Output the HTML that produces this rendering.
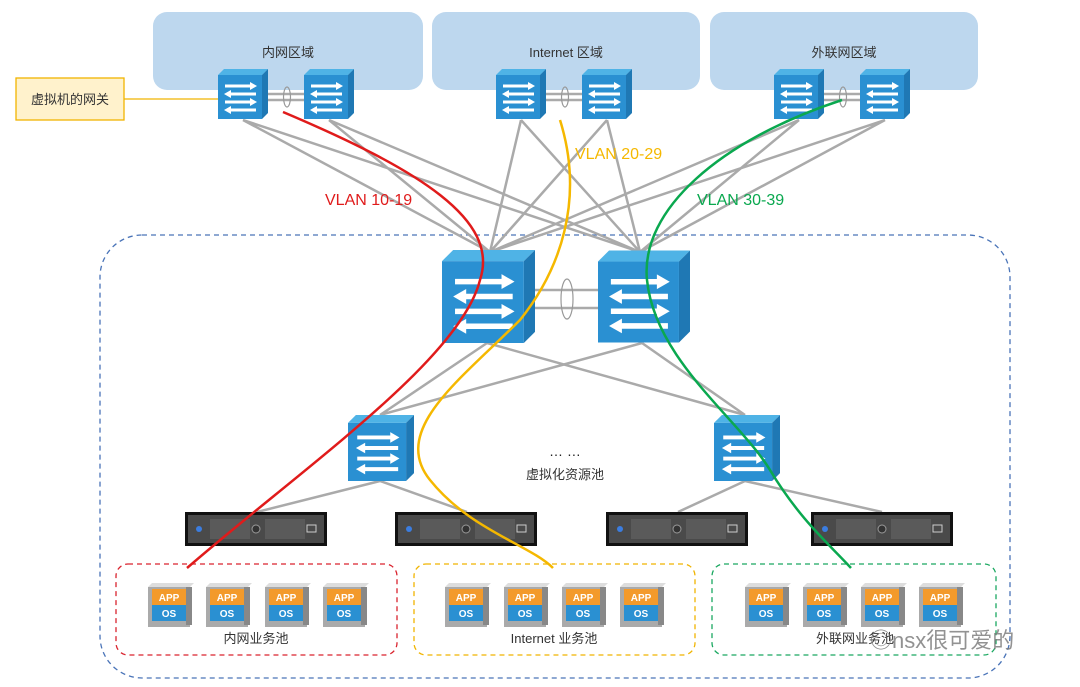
<!DOCTYPE html>
<html><head><meta charset="utf-8"><style>
body{margin:0;background:#fff;}
svg{display:block;font-family:"Liberation Sans","Noto Sans CJK SC",sans-serif;}
</style></head><body>
<svg width="1080" height="687" viewBox="0 0 1080 687" xmlns="http://www.w3.org/2000/svg">
<defs>
<symbol id="sw" viewBox="0 0 100 100" overflow="visible">
<polygon points="0,12 12,0 100,0 88,12" fill="#4fb3e6"/>
<polygon points="88,12 100,0 100,88 88,100" fill="#1f78b4"/>
<rect x="0" y="12" width="88" height="88" fill="#2a90d2"/>
<g stroke="#fff" stroke-width="6" fill="#fff">
<line x1="14" y1="34" x2="66" y2="34"/><polygon points="64,26 78,34 64,42" stroke="none"/>
<line x1="24" y1="50" x2="76" y2="50"/><polygon points="26,42 12,50 26,58" stroke="none"/>
<line x1="14" y1="66" x2="66" y2="66"/><polygon points="64,58 78,66 64,74" stroke="none"/>
<line x1="24" y1="82" x2="76" y2="82"/><polygon points="26,74 12,82 26,90" stroke="none"/>
</g>
</symbol>
<symbol id="srv" viewBox="0 0 142 34" overflow="visible">
<rect x="0" y="0" width="142" height="34" fill="#111"/>
<rect x="3" y="3" width="136" height="28" fill="#4a4a4a"/>
<rect x="25" y="7" width="40" height="20" fill="#5a5a5a"/>
<rect x="80" y="7" width="40" height="20" fill="#5a5a5a"/>
<circle cx="14" cy="17" r="3" fill="#3b7de0"/>
<circle cx="71" cy="17" r="4" fill="#333" stroke="#999" stroke-width="1"/>
<rect x="122" y="13" width="9" height="7" fill="none" stroke="#ccc" stroke-width="1"/>
</symbol>
<symbol id="vm" viewBox="0 0 46 44" overflow="visible">
<polygon points="0,4 4,0 46,0 42,4" fill="#ddd"/>
<rect x="0" y="4" width="42" height="40" fill="#aaa"/>
<rect x="4" y="6" width="34" height="16" fill="#f39a2b"/>
<rect x="4" y="22" width="34" height="16" fill="#2a90d2"/>
<rect x="38" y="4" width="6" height="38" fill="#888"/>
<text x="21" y="18" font-size="10" font-weight="bold" fill="#fff" text-anchor="middle">APP</text>
<text x="21" y="34" font-size="10" font-weight="bold" fill="#fff" text-anchor="middle">OS</text>
</symbol>
</defs>

<!-- zones -->
<rect x="153" y="12" width="270" height="78" rx="14" fill="#bdd7ee"/>
<rect x="432" y="12" width="268" height="78" rx="14" fill="#bdd7ee"/>
<rect x="710" y="12" width="268" height="78" rx="14" fill="#bdd7ee"/>
<text x="288" y="57" font-size="13" fill="#333" text-anchor="middle">内网区域</text>
<text x="566" y="57" font-size="13" fill="#333" text-anchor="middle">Internet 区域</text>
<text x="844" y="57" font-size="13" fill="#333" text-anchor="middle">外联网区域</text>

<!-- big dashed -->
<rect x="100" y="235" width="910" height="443" rx="42" fill="none" stroke="#4a74b8" stroke-width="1.3" stroke-dasharray="5,4"/>

<!-- gray lines top to core -->
<g stroke="#aaa" stroke-width="2.5" fill="none">
<path d="M243,120 L490,252 M243,120 L640,252 M329,120 L490,252 M329,120 L640,252"/>
<path d="M521,120 L490,252 M521,120 L640,252 M607,120 L490,252 M607,120 L640,252"/>
<path d="M799,120 L490,252 M799,120 L640,252 M885,120 L490,252 M885,120 L640,252"/>
<path d="M487,343 L380,415 M487,343 L745,415 M642,343 L380,415 M642,343 L745,415"/>
<path d="M380,481 L257,512 M380,481 L467,512 M745,481 L678,512 M745,481 L882,512"/>
<path d="M268,94 H304 M268,100 H304 M546,94 H582 M546,100 H582 M824,94 H860 M824,100 H860"/>
<path d="M535,290 H598 M535,308 H598"/>
</g>
<g fill="none" stroke="#999" stroke-width="1.2">
<ellipse cx="287" cy="97" rx="3.5" ry="10"/>
<ellipse cx="565" cy="97" rx="3.5" ry="10"/>
<ellipse cx="843" cy="97" rx="3.5" ry="10"/>
<ellipse cx="567" cy="299" rx="6" ry="20"/>
</g>

<!-- gateway label -->
<rect x="16" y="78" width="108" height="42" fill="#fff2cc" stroke="#f0b400" stroke-width="1.3"/>
<text x="70" y="104" font-size="13" fill="#333" text-anchor="middle">虚拟机的网关</text>
<line x1="124" y1="99" x2="220" y2="99" stroke="#f0b400" stroke-width="1.3"/>

<!-- switches -->
<use href="#sw" x="218" y="68" width="50" height="52"/>
<use href="#sw" x="304" y="68" width="50" height="52"/>
<use href="#sw" x="496" y="68" width="50" height="52"/>
<use href="#sw" x="582" y="68" width="50" height="52"/>
<use href="#sw" x="774" y="68" width="50" height="52"/>
<use href="#sw" x="860" y="68" width="50" height="52"/>
<use href="#sw" x="442" y="250" width="93" height="93"/>
<use href="#sw" x="598" y="250" width="92" height="93"/>
<use href="#sw" x="347" y="415" width="68" height="66"/>
<use href="#sw" x="713" y="415" width="68" height="66"/>

<text x="565" y="456" font-size="14" fill="#222" text-anchor="middle">… …</text>
<text x="565" y="479" font-size="13" fill="#333" text-anchor="middle">虚拟化资源池</text>

<!-- servers -->
<use href="#srv" x="185" y="512" width="142" height="34"/>
<use href="#srv" x="395" y="512" width="142" height="34"/>
<use href="#srv" x="606" y="512" width="142" height="34"/>
<use href="#srv" x="811" y="512" width="142" height="34"/>

<!-- pools -->
<rect x="116" y="564" width="281" height="91" rx="12" fill="none" stroke="#d9232e" stroke-width="1.3" stroke-dasharray="5,4"/>
<rect x="414" y="564" width="281" height="91" rx="12" fill="none" stroke="#f0b400" stroke-width="1.3" stroke-dasharray="5,4"/>
<rect x="712" y="564" width="284" height="91" rx="12" fill="none" stroke="#1aa860" stroke-width="1.3" stroke-dasharray="5,4"/>
<use href="#vm" x="148" y="583" width="46" height="44"/>
<use href="#vm" x="206" y="583" width="46" height="44"/>
<use href="#vm" x="265" y="583" width="46" height="44"/>
<use href="#vm" x="323" y="583" width="46" height="44"/>
<use href="#vm" x="445" y="583" width="46" height="44"/>
<use href="#vm" x="504" y="583" width="46" height="44"/>
<use href="#vm" x="562" y="583" width="46" height="44"/>
<use href="#vm" x="620" y="583" width="46" height="44"/>
<use href="#vm" x="745" y="583" width="46" height="44"/>
<use href="#vm" x="803" y="583" width="46" height="44"/>
<use href="#vm" x="861" y="583" width="46" height="44"/>
<use href="#vm" x="919" y="583" width="46" height="44"/>
<text x="256" y="643" font-size="13" fill="#333" text-anchor="middle">内网业务池</text>
<text x="554" y="643" font-size="13" fill="#333" text-anchor="middle">Internet 业务池</text>
<text x="855" y="643" font-size="13" fill="#333" text-anchor="middle">外联网业务池</text>

<!-- vlan curves -->
<path d="M283,112 C420,170 500,220 480,280 C460,360 300,470 187,568" fill="none" stroke="#e01b1b" stroke-width="2.5"/>
<path d="M560,120 C585,200 560,270 520,320 C460,380 390,430 430,480 C470,530 530,545 553,568" fill="none" stroke="#f5b800" stroke-width="2.5"/>
<path d="M842,100 C720,140 640,210 647,280 C655,360 740,420 770,470 C800,520 830,545 851,568" fill="none" stroke="#0aa84f" stroke-width="2.5"/>
<text x="325" y="205" font-size="16" fill="#e01b1b">VLAN 10-19</text>
<text x="575" y="159" font-size="16" fill="#f5b800">VLAN 20-29</text>
<text x="697" y="205" font-size="16" fill="#0aa84f">VLAN 30-39</text>

<!-- watermark -->
<text x="870" y="648" font-size="22" fill="#777" opacity="0.8">◎nsx很可爱的</text>
</svg>
</body></html>
